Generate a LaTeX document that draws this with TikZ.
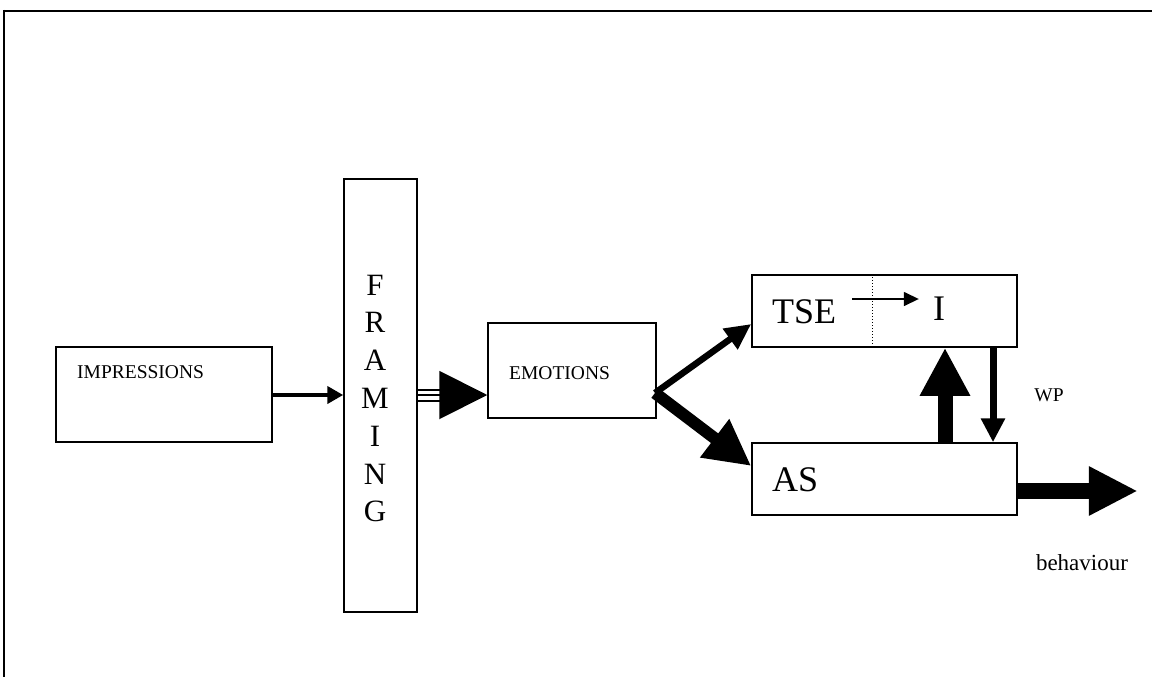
\documentclass[tikz,border=0pt]{standalone}
\usepackage{fontspec}
\setmainfont{Liberation Serif}
\usetikzlibrary{arrows.meta}

\tikzset{
  box/.style={draw, line width=1.5pt, inner sep=0pt},
  txt/.style={inner sep=0pt, font=\fontsize{19.5}{22}\selectfont},
  big/.style={inner sep=0pt, font=\fontsize{36}{40}\selectfont},
  letter/.style={inner sep=0pt, font=\fontsize{31}{34}\selectfont}
}

\begin{document}
\begin{tikzpicture}[x=1pt, y=-1pt]
  \useasboundingbox (0,0) rectangle (1152,677);
  % page frame
  \draw[line width=2pt] (1152,11) -- (4,11);
  \draw[line width=1.2pt] (4,10) -- (4,677);

  % boxes
  \node[box, minimum width=216, minimum height=95] (imp) at (164,394.5) {};
  \node[box, minimum width=73, minimum height=433] (fr) at (380.5,395.5) {};
  \node[box, minimum width=168, minimum height=95] (em) at (572,370.5) {};
  \node[box, minimum width=265, minimum height=72] (tse) at (884.5,311) {};
  \node[box, minimum width=265, minimum height=72] (as) at (884.5,479) {};

  % texts
  \node[txt, anchor=west] (impl) at (77,372) {IMPRESSIONS};
  \node[txt, anchor=west] (eml) at (509,373) {EMOTIONS};
  \foreach \l [count=\i] in {F,R,A,M,I,N,G}
    \node[letter] (fr-\i) at (375,{285+37.8*(\i-1)}) {\l};
  \node[big, anchor=west] (tsel) at (772,312) {TSE};
  \node[big] (il) at (939,309) {I};
  \node[big, anchor=west] (asl) at (772,480) {AS};
  \node[txt] (wp) at (1049,395) {WP};
  \node[txt, font=\fontsize{23}{26}\selectfont] (beh) at (1082,563) {behaviour};

  \coordinate (fork) at (655,393);
  \coordinate (up) at (945,0);
  \coordinate (down) at (993,0);
  \coordinate (sep) at (872,0);

  % arrows
  \draw[line width=4pt, -{Triangle[length=16pt,width=17pt]}] (imp.east |- 0,395) -- (fr.west |- 0,395);
  \draw[line width=2pt, -{Triangle[length=48pt,width=48pt]}] (fr.east |- 0,395) -- (em.west |- 0,395);
  \foreach \dy in {-5.5,5.5}
    \draw[line width=2pt] ([yshift=\dy]fr.east |- 0,395) -- ++(26,0);
  \draw[line width=6.5pt, -{Triangle[length=26pt,width=24pt]}] (fork) -- ([yshift=-13]tse.west);
  \draw[line width=12pt, -{Triangle[length=46pt,width=45pt]}] (fork) -- ([yshift=13]as.west);
  \draw[line width=15pt, -{Triangle[length=48pt,width=47pt]}] (as.north -| up) -- (tse.south -| up);
  \draw[line width=7pt, -{Triangle[length=24pt,width=23pt]}] (tse.south -| down) -- (as.north -| down);
  \draw[line width=16pt, -{Triangle[length=49pt,width=46pt]}] ([yshift=-12]as.east) -- ++(120,0);
  \draw[dotted, line width=1pt] (tse.north -| sep) -- (tse.south -| sep);
  \draw[line width=1.5pt, -{Triangle[length=15pt,width=14pt]}] ([shift={(16pt,13pt)}]tsel.east) -- ([shift={(-14pt,10pt)}]il.west);
\end{tikzpicture}
\end{document}
